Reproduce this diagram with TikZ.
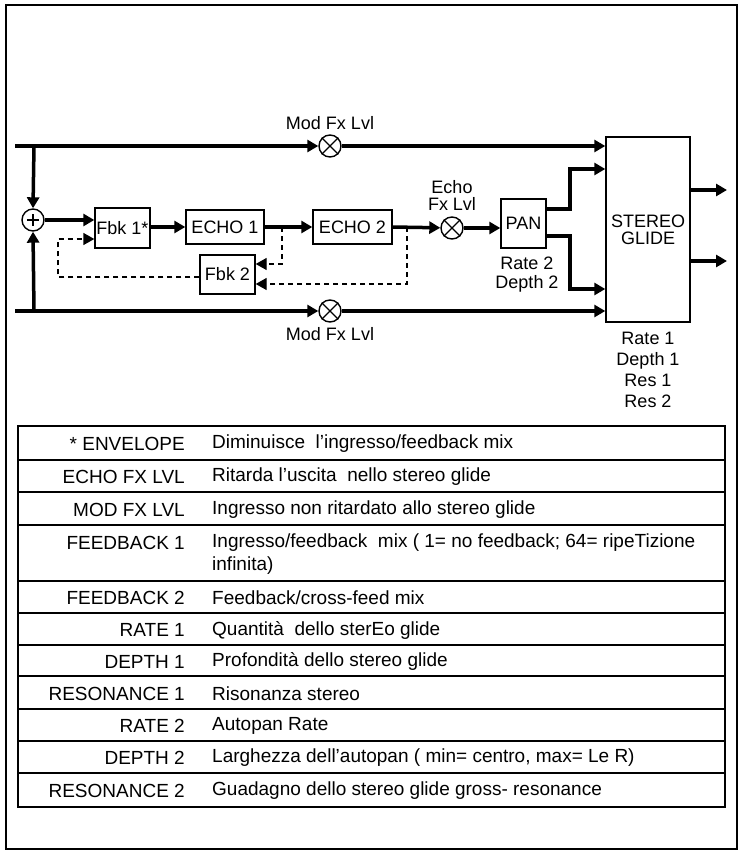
\documentclass[tikz,border=0pt]{standalone}
\usepackage{fontspec}
\setmainfont{Liberation Sans}
\usetikzlibrary{arrows.meta}
\begin{document}
\begin{tikzpicture}[x=1pt,y=-1pt,
  thk/.style={line width=3.5pt},
  arr/.style={thk,-{Triangle[length=11pt,width=12pt]}},
  darr/.style={line width=1.4pt,dash pattern=on 5pt off 4pt,-{Triangle[length=11pt,width=12pt]}},
  box/.style={draw,line width=1.4pt,rectangle,inner sep=0pt,font=\fontsize{18}{20}\selectfont},
  circ/.style={draw,line width=1.4pt,circle,minimum size=22pt,inner sep=0pt},
  lab/.style={font=\fontsize{18}{18}\selectfont,inner sep=0pt,align=center},
  tl/.style={font=\fontsize{19}{22}\selectfont,inner sep=0pt,anchor=east},
  td/.style={font=\fontsize{19}{22}\selectfont,inner sep=0pt,anchor=west,align=left},
  hl/.style={line width=1.2pt}]
\useasboundingbox (0,0) rectangle (742,853);
\draw[line width=1.5pt] (6,5) rectangle (737,849);

% nodes
\node[circ] (plus) at (33,220) {};
\draw[line width=1.4pt] (plus.center) ++(-6,0) -- ++(12,0) (plus.center) ++(0,-6) -- ++(0,12);
\node[circ] (m1) at (330,146) {};
\node[circ] (m2) at (330,311) {};
\node[circ] (m3) at (452,228) {};
\foreach \c in {m1,m2,m3}{
  \draw[line width=1.4pt] (\c.north east) -- (\c.south west) (\c.north west) -- (\c.south east);}
\node[box,minimum width=55pt,minimum height=40pt] (fbk1) at (122.5,228) {Fbk 1*};
\node[box,minimum width=78pt,minimum height=34pt] (echo1) at (225,227) {ECHO 1};
\node[box,minimum width=79pt,minimum height=34pt] (echo2) at (352.5,227) {ECHO 2};
\node[box,minimum width=55pt,minimum height=39pt] (fbk2) at (227.5,274.5) {Fbk 2};
\node[box,minimum width=45pt,minimum height=49pt] (pan) at (523.5,223.5) {PAN};
\node[box,minimum width=84pt,minimum height=185pt,align=center] (glide) at (648,229.5) {STEREO\\[-3pt]GLIDE};

\node[lab] (l1) at (330,123) {Mod Fx Lvl};
\node[lab] (l2) at (330,334) {Mod Fx Lvl};
\node[lab] (l3) at (452,195) {Echo\\[-1pt]Fx Lvl};
\node[lab] (l4) at (527,275) {Rate 2\\[1pt]Depth 2};
\node[lab] (l5) at (648,370) {Rate 1\\[3pt]Depth 1\\[3pt]Res 1\\[3pt]Res 2};

\coordinate (inT) at (15,146);
\coordinate (inB) at (15,311);
\coordinate (jT) at (34,146);
\coordinate (jB) at (34,311);
\coordinate (o1) at (727,190);
\coordinate (o2) at (727,261);

% thick signal lines
\draw[arr] (inT) -- (m1);
\draw[arr] (m1) -- (m1 -| glide.west);
\draw[arr] (inB) -- (m2);
\draw[arr] (m2) -- (m2 -| glide.west);
\draw[arr] (jT) -- (plus.north);
\draw[arr] (jB) -- (plus.south);
\draw[arr] (plus.east) -- (plus.east -| fbk1.west);
\draw[arr] (fbk1.east |- echo1.west) -- (echo1.west);
\draw[arr] (echo1.east) -- (echo2.west);
\draw[arr] (echo2.east) -- (m3);
\draw[arr] (m3) -- (m3 -| pan.west);
\draw[arr] (pan.east |- 0,209) -- (570,209) -- (570,169) -- (glide.west |- 0,169);
\draw[arr] (pan.east |- 0,236) -- (570,236) -- (570,289) -- (glide.west |- 0,289);
\draw[arr] (glide.east |- o1) -- (o1);
\draw[arr] (glide.east |- o2) -- (o2);

% dashed feedback
\draw[darr] (282,227) -- (282,264) -- (fbk2.east |- 0,264);
\draw[darr] (407,227) -- (407,284) -- (fbk2.east |- 0,284);
\draw[darr] (fbk2.west |- 0,277) -- (58,277) -- (58,239) -- (fbk1.west |- 0,239);

% table
\draw[line width=2.5pt] (18,426) rectangle (725,807);
\foreach \y in {460,492,525,581,613,645,676,709,741,773}{
  \draw[hl] (18,\y) -- (725,\y);}
\node[tl] (a1) at (185,444) {* ENVELOPE};
\node[td] (b1) at (212,444) {Diminuisce\ \ l’ingresso/feedback mix};
\node[tl] (a2) at (185,477) {ECHO FX LVL};
\node[td] (b2) at (212,477) {Ritarda l’uscita\ \ nello stereo glide};
\node[tl] (a3) at (185,509.5) {MOD FX LVL};
\node[td] (b3) at (212,509.5) {Ingresso non ritardato allo stereo glide};
\node[tl] (a4) at (185,543) {FEEDBACK 1};
\node[td,anchor=north west] (b4) at (212,534) {Ingresso/feedback\ \ mix ( 1= no feedback; 64= ripeTizione\\[1pt]infinita)};
\node[tl] (a5) at (185,598) {FEEDBACK 2};
\node[td] (b5) at (212,598) {Feedback/cross-feed mix};
\node[tl] (a6) at (185,630) {RATE 1};
\node[td] (b6) at (212,630) {Quantità\ \ dello sterEo glide};
\node[tl] (a7) at (185,661.5) {DEPTH 1};
\node[td] (b7) at (212,661.5) {Profondità dello stereo glide};
\node[tl] (a8) at (185,693.5) {RESONANCE 1};
\node[td] (b8) at (212,693.5) {Risonanza stereo};
\node[tl] (a9) at (185,726) {RATE 2};
\node[td] (b9) at (212,726) {Autopan Rate};
\node[tl] (a10) at (185,758) {DEPTH 2};
\node[td] (b10) at (212,758) {Larghezza dell’autopan ( min= centro, max= Le R)};
\node[tl] (a11) at (185,791) {RESONANCE 2};
\node[td] (b11) at (212,791) {Guadagno dello stereo glide gross- resonance};
\end{tikzpicture}
\end{document}
